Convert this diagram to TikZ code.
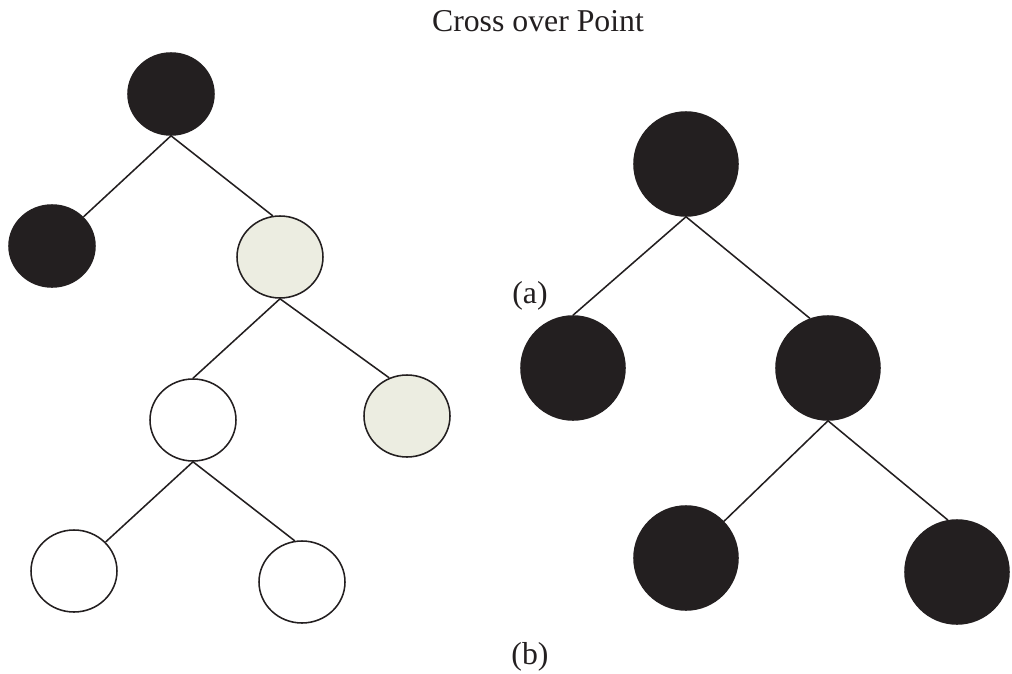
\documentclass[tikz,border=0pt]{standalone}
\usepackage{fontspec}
\setmainfont{Liberation Serif}
\usepackage{xcolor}
\definecolor{ink}{HTML}{231F20}
\definecolor{sage}{HTML}{ECEDE1}
\usepackage{tikz}
\usetikzlibrary{positioning,shapes.geometric}
\tikzset{
  every picture/.style={line width=1.1pt},
  gene/.style={ellipse, draw=ink, fill=#1, minimum width=2.15cm, minimum height=2.05cm, inner sep=0pt},
  gene/.default=white,
  darkgene/.style={gene=ink},
  swapgene/.style={gene=sage},
  bigdark/.style={circle, draw=ink, fill=ink, minimum size=2.6cm, inner sep=0pt},
  branch/.style={draw=ink},
  caption/.style={font=\fontsize{22.6}{27}\selectfont, text=ink, inner sep=0pt},
}

\begin{document}
\begin{tikzpicture}[on grid]
  \useasboundingbox (0,0) rectangle (25.3,-16.85);
  \node[caption] (title) at (13.45,-0.52) {Cross over Point};
  % left tree, shaded subtree is the part that gets swapped
  \node[darkgene] (lroot) at (4.275,-2.35) {};
  \node[darkgene, below left=3.8cm and 2.975cm of lroot] (lleft) {};
  \node[swapgene, below right=4.075cm and 2.725cm of lroot] (lright) {};
  \node[gene, below left=4.075cm and 2.175cm of lright] (lmid) {};
  \node[swapgene, below right=3.975cm and 3.175cm of lright] (lgreen) {};
  \node[gene, below left=3.775cm and 2.975cm of lmid] (lbl) {};
  \node[gene, below right=4.05cm and 2.725cm of lmid] (lbr) {};
  % right tree
  \node[bigdark] (rroot) at (17.15,-4.1) {};
  \node[bigdark, below left=5.1cm and 2.825cm of rroot] (rleft) {};
  \node[bigdark, below right=5.1cm and 3.55cm of rroot] (rright) {};
  \node[bigdark, below left=4.75cm and 3.55cm of rright] (rbl) {};
  \node[bigdark, below right=5.1cm and 3.225cm of rright] (rbr) {};
  \draw[branch] (lroot.south) -- (lleft);
  \draw[branch] (lroot.south) -- (lright.100);
  \draw[branch] (lright.south) -- (lmid.north);
  \draw[branch] (lright.south) -- (lgreen.115);
  \draw[branch] (lmid.south) -- (lbl);
  \draw[branch] (lmid.south) -- (lbr.100);
  \draw[branch] (rroot.south) -- (rleft.north);
  \draw[branch] (rroot.south) -- (rright.110);
  \draw[branch] (rright.south) -- (rbl);
  \draw[branch] (rright.south) -- (rbr.100);
  \node[caption] (tagA) at (13.25,-7.4) {(a)};
  \node[caption] (tagB) at (13.25,-16.425) {(b)};
\end{tikzpicture}
\end{document}
